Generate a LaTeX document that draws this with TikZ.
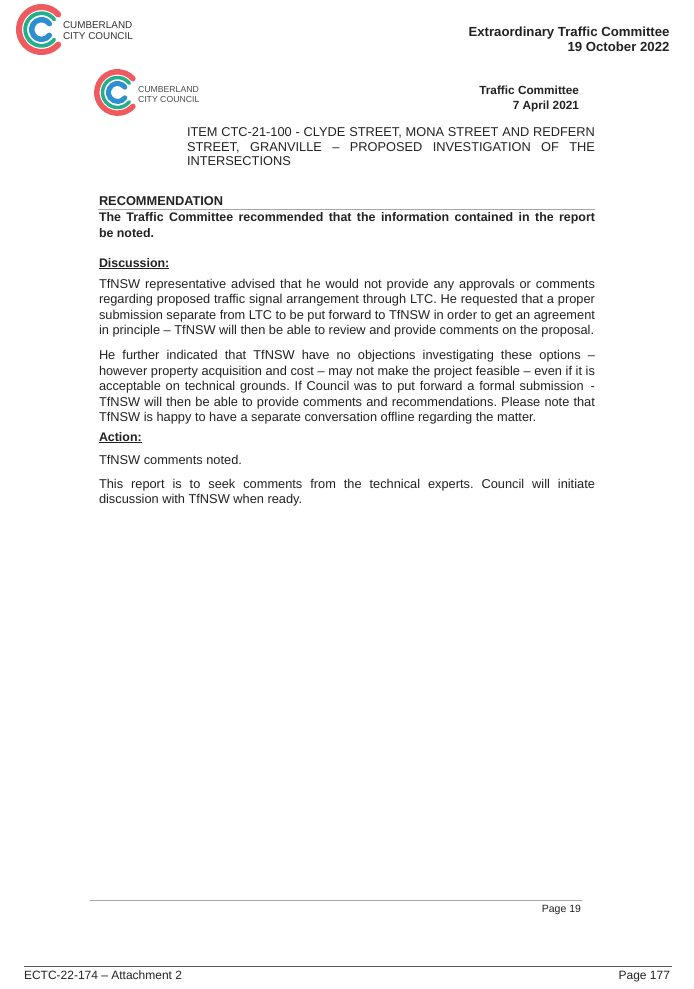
\documentclass[tikz,border=0pt]{standalone}
\usepackage{fontspec}
\usepackage{xcolor}
\setmainfont{Liberation Sans}
\frenchspacing
\definecolor{logored}{HTML}{EE5A5F}
\definecolor{logogreen}{HTML}{25AE8A}
\definecolor{logoblue}{HTML}{2E8FD0}
\definecolor{inkgrey}{HTML}{222222}
\tikzset{
    txt/.style={inner sep=0pt, outer sep=0pt, text=inkgrey, anchor=base west},
    txtright/.style={txt, anchor=base east},
    para/.style={txt, anchor=north west, text width=496pt, align=justify, font=\fontsize{12.8}{15.45}\selectfont},
    bold/.style={txt, font=\fontsize{12.4}{15.45}\selectfont\bfseries},
    rulegrey/.style={draw=black!35, line width=1pt},
}
\begin{document}
\begin{tikzpicture}[x=1pt,y=1pt]
    \useasboundingbox (0,0) rectangle (694,-989);
    % Logos
    \foreach \lx/\ly/\ls in {41.5/-29.5/1, 117.5/-92.5/0.92}{
        \begin{scope}[shift={(\lx,\ly)},scale=\ls,line cap=round]
            \draw[logored,line width=6*\ls] (42:22.5) arc (42:318:22.5);
            \draw[logogreen,line width=3.8*\ls] (38:16.3) arc (38:322:16.3);
            \draw[logoblue,line width=5.4*\ls] (36:9.8) arc (36:324:9.8);
        \end{scope}
    }
    \node[txt,font=\fontsize{9.9}{10}\selectfont,text=black!80] (logotopa) at (63,-28.5) {CUMBERLAND};
    \node[txt,font=\fontsize{9.9}{10}\selectfont,text=black!80] (logotopb) at (63,-39.5) {CITY COUNCIL};
    \node[txt,font=\fontsize{8.7}{9}\selectfont,text=black!70] (logoinnera) at (138,-92) {CUMBERLAND};
    \node[txt,font=\fontsize{8.7}{9}\selectfont,text=black!70] (logoinnerb) at (138,-102) {CITY COUNCIL};
    % Headers
    \node[txtright,font=\fontsize{13.2}{15}\selectfont\bfseries] (hdrtitle) at (669.5,-36.5) {Extraordinary Traffic Committee};
    \node[txtright,font=\fontsize{13.2}{15}\selectfont\bfseries] (hdrdate) at (669.5,-51.5) {19 October 2022};
    \node[txtright,font=\fontsize{11.8}{13}\selectfont\bfseries] (subtitle) at (579,-94.5) {Traffic Committee};
    \node[txtright,font=\fontsize{11.8}{13}\selectfont\bfseries] (subdate) at (579,-109) {7 April 2021};
    % Item title
    \node[para,text width=408pt,font=\fontsize{12.8}{14.7}\selectfont] (item) at (187,-127.5) {ITEM CTC-21-100 - CLYDE STREET, MONA STREET AND REDFERN\linebreak STREET, GRANVILLE -- PROPOSED INVESTIGATION OF THE\linebreak INTERSECTIONS};
    % Recommendation
    \node[bold,font=\fontsize{12.8}{15.45}\selectfont\bfseries] (rec) at (99,-205) {RECOMMENDATION};
    \draw[rulegrey] (98,-209.5) -- (595,-209.5);
    \node[para,font=\fontsize{12.4}{15.45}\selectfont\bfseries] (recbody) at (99,-213) {The Traffic Committee recommended that the information contained in the report\linebreak be noted.};
    % Discussion
    \node[bold] (disc) at (99,-267) {\underline{Discussion:}};
    \node[para] (paraa) at (99,-279) {TfNSW representative advised that he would not provide any approvals or comments\linebreak regarding proposed traffic signal arrangement through LTC. He requested that a proper\linebreak submission separate from LTC to be put forward to TfNSW in order to get an agreement\linebreak in principle -- TfNSW will then be able to review and provide comments on the proposal.};
    \node[para] (parab) at (99,-350.5) {He further indicated that TfNSW have no objections investigating these options --\linebreak however property acquisition and cost -- may not make the project feasible -- even if it is\linebreak acceptable on technical grounds. If Council was to put forward a formal submission \,-\linebreak TfNSW will then be able to provide comments and recommendations. Please note that\linebreak TfNSW is happy to have a separate conversation offline regarding the matter.};
    % Action
    \node[bold] (act) at (99,-441) {\underline{Action:}};
    \node[txt,font=\fontsize{12.8}{15.45}\selectfont] (noted) at (99,-464) {TfNSW comments noted.};
    \node[para] (parac) at (99,-479) {This report is to seek comments from the technical experts. Council will initiate\linebreak discussion with TfNSW when ready.};
    % Footers
    \draw[rulegrey] (90,-900.5) -- (582,-900.5);
    \node[txtright,font=\fontsize{10.5}{12}\selectfont] (pagein) at (581,-912) {Page 19};
    \draw[draw=black!65,line width=1pt] (24,-966) -- (672,-966);
    \node[txt,font=\fontsize{12}{13}\selectfont] (attach) at (24,-979) {ECTC-22-174 -- Attachment 2};
    \node[txtright,font=\fontsize{12}{13}\selectfont] (pageout) at (670,-979) {Page 177};
\end{tikzpicture}
\end{document}
